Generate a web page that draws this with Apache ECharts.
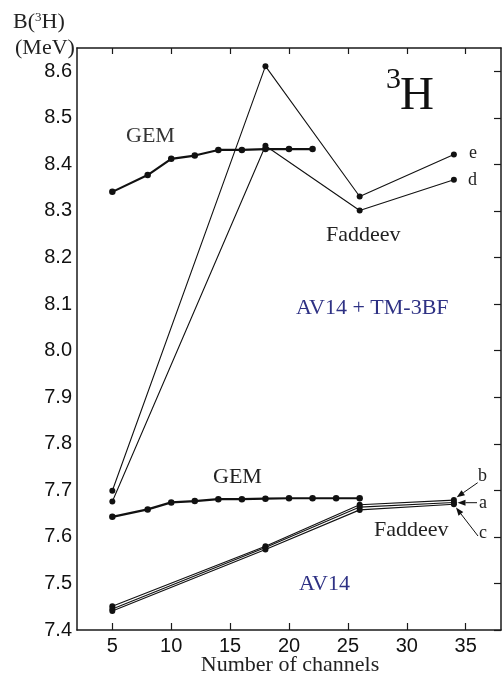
<!DOCTYPE html>
<html>
<head>
<meta charset="utf-8">
<script src="https://cdn.jsdelivr.net/npm/echarts@6/dist/echarts.min.js"></script>
<style>
html,body{margin:0;padding:0;background:#fff;}
#chart{width:503px;height:680px;}
</style>
</head>
<body>
<div id="chart"></div>
<script>
// ---- data ----
const xTicks = [5, 10, 15, 20, 25, 30, 35];
const yTicks = [7.4, 7.5, 7.6, 7.7, 7.8, 7.9, 8.0, 8.1, 8.2, 8.3, 8.4, 8.5, 8.6];

// AV14 + TM-3BF
const gemTMX = [5, 8, 10, 12, 14, 16, 18, 20, 22];
const gemTM  = [8.341, 8.377, 8.412, 8.419, 8.431, 8.431, 8.433, 8.433, 8.433];
const fadX   = [5, 18, 26, 34];
const fadE   = [7.699, 8.611, 8.331, 8.421];
const fadD   = [7.676, 8.440, 8.301, 8.367];

// AV14
const gemAVX = [5, 8, 10, 12, 14, 16, 18, 20, 22, 24, 26];
const gemAV  = [7.643, 7.659, 7.674, 7.677, 7.681, 7.681, 7.682, 7.683, 7.683, 7.683, 7.683];
const fadB   = [7.451, 7.580, 7.669, 7.679];
const fadA   = [7.445, 7.577, 7.664, 7.674];
const fadC   = [7.441, 7.573, 7.658, 7.670];

const pairs = (xs, ys) => xs.map((x, i) => [x, ys[i]]);

const chart = echarts.init(document.getElementById('chart'), null, {renderer: 'canvas'});

const axisCol = '#1a1a1a';
const serif = 'Liberation Serif';
const sans = 'Liberation Sans';

function line(name, xs, ys, thick) {
  return {
    name, type: 'line', data: pairs(xs, ys),
    symbol: 'circle', symbolSize: thick ? 6.5 : 6,
    lineStyle: {color: '#111', width: thick ? 2.2 : 1.1},
    itemStyle: {color: '#111'},
    animation: false, silent: true, z: thick ? 3 : 2
  };
}

const XMIN = 2, XMAX = 38, YMIN = 7.4, YMAX = 8.65;

const option = {
  backgroundColor: '#fff',
  animation: false,
  grid: {left: 77, right: 2, top: 48, bottom: 50, containLabel: false},
  xAxis: [
    {
      type: 'value', min: XMIN, max: XMAX, position: 'bottom',
      axisLine: {show: true, onZero: false, lineStyle: {color: axisCol, width: 1.5}},
      axisTick: {show: true, inside: true, length: 7, customValues: xTicks, lineStyle: {color: axisCol, width: 1.2}},
      axisLabel: {show: true, customValues: xTicks, margin: 6, color: '#111', fontFamily: sans, fontSize: 20},
      splitLine: {show: false}
    },
    {
      type: 'value', min: XMIN, max: XMAX, position: 'top',
      axisLine: {show: true, onZero: false, lineStyle: {color: axisCol, width: 1.5}},
      axisTick: {show: true, inside: true, length: 6, customValues: xTicks, lineStyle: {color: axisCol, width: 1.2}},
      axisLabel: {show: false},
      splitLine: {show: false}
    }
  ],
  yAxis: [
    {
      type: 'value', min: YMIN, max: YMAX, position: 'left',
      axisLine: {show: true, onZero: false, lineStyle: {color: axisCol, width: 1.5}},
      axisTick: {show: false},
      axisLabel: {show: true, customValues: yTicks, margin: 5, color: '#111', fontFamily: sans, fontSize: 20,
        formatter: v => v.toFixed(1)},
      splitLine: {show: false}
    },
    {
      type: 'value', min: YMIN, max: YMAX, position: 'right',
      axisLine: {show: true, onZero: false, lineStyle: {color: axisCol, width: 1.5}},
      axisTick: {show: true, inside: true, length: 7, customValues: yTicks, lineStyle: {color: axisCol, width: 1.2}},
      axisLabel: {show: false},
      splitLine: {show: false}
    }
  ],
  series: [
    line('GEM TM', gemTMX, gemTM, true),
    line('Faddeev e', fadX, fadE, false),
    line('Faddeev d', fadX, fadD, false),
    line('GEM AV14', gemAVX, gemAV, true),
    line('Faddeev b', fadX, fadB, false),
    line('Faddeev a', fadX, fadA, false),
    line('Faddeev c', fadX, fadC, false)
  ]
};

chart.setOption(option);

// ---- annotations ----
function txt(text, x, y, size, color, family, align) {
  return {type: 'text', x, y, z: 10, silent: true,
    style: {text, fill: color || '#222', font: size + 'px "' + (family || serif) + '"',
      align: align || 'left', verticalAlign: 'middle'}};
}
function arrow(x1, y1, x2, y2) {
  const ang = Math.atan2(y2 - y1, x2 - x1);
  const L = 8, W = 3;
  const bx = x2 - L * Math.cos(ang), by = y2 - L * Math.sin(ang);
  const px = -Math.sin(ang) * W, py = Math.cos(ang) * W;
  return [
    {type: 'line', z: 10, silent: true, shape: {x1, y1, x2: bx, y2: by}, style: {stroke: '#111', lineWidth: 1}},
    {type: 'polygon', z: 10, silent: true, shape: {points: [[x2, y2], [bx + px, by + py], [bx - px, by - py]]}, style: {fill: '#111'}}
  ];
}

const graphics = [
  {type: 'text', x: 13, y: 22, z: 10, silent: true,
    style: {text: '{n|B(}{s|3}{n|H)}', verticalAlign: 'middle',
      rich: {n: {font: '22px "Liberation Serif"', fill: '#222', lineHeight: 22},
             s: {font: '13px "Liberation Serif"', fill: '#222', verticalAlign: 'top', lineHeight: 22}}}},
  txt('(MeV)', 15, 48, 22, '#222'),
  txt('3', 386, 80, 30, '#111'),
  txt('H', 400, 97, 47, '#111'),
  txt('GEM', 126, 136, 22, '#333'),
  txt('Faddeev', 326, 235, 22, '#222'),
  txt('e', 469, 153, 18, '#222'),
  txt('d', 468, 180, 18, '#222'),
  txt('AV14 + TM-3BF', 296, 308, 22, '#2e3184'),
  txt('GEM', 213, 477, 22, '#222'),
  txt('Faddeev', 374, 530, 22, '#222'),
  txt('AV14', 299, 584, 22, '#2e3184'),
  txt('b', 478, 476, 18, '#222'),
  txt('a', 479, 503, 18, '#222'),
  txt('c', 479, 533, 18, '#222'),
  txt('Number of channels', 290, 665, 22, '#222', serif, 'center'),
  ...arrow(477.7, 482.7, 456.7, 497.3),
  ...arrow(477, 502.7, 457.5, 502.7),
  ...arrow(478, 536, 456, 507.5)
];

chart.setOption({graphic: graphics});
</script>
</body>
</html>
